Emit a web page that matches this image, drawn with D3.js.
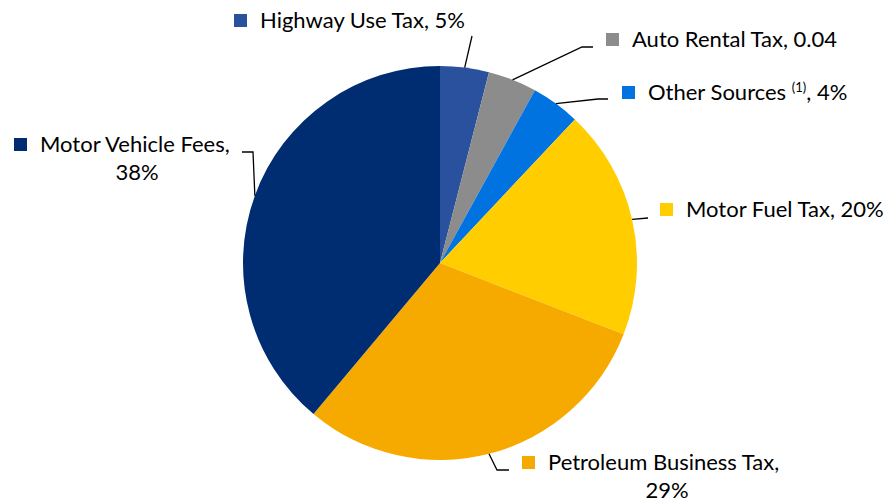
<!DOCTYPE html>
<html>
<head>
<meta charset="utf-8">
<script src="https://cdn.jsdelivr.net/npm/d3@7"></script>
<style>
  body { margin: 0; background: #fff; }
  text { font-family: Lato, "Open Sans", sans-serif; fill: #000; }
</style>
</head>
<body>
<div id="chart"></div>
<script>
// data
const names = ['Highway Use Tax', 'Auto Rental Tax', 'Other Sources', 'Motor Fuel Tax', 'Petroleum Business Tax', 'Motor Vehicle Fees'];
const shares = [4.0, 4.0, 4.0, 18.9, 30.2, 38.9];
const shareLabels = ['5%', '0.04', '4%', '20%', '29%', '38%'];
const colors = ['#2a519e', '#8c8c8c', '#0073e0', '#ffcd00', '#f6aa00', '#002d72'];

const width = 890, height = 502;
const cx = 440, cy = 263, radius = 197;
const fontSize = 22;

const svg = d3.select('#chart').append('svg')
  .attr('width', width)
  .attr('height', height);

const data = names.map((n, i) => ({ name: n, value: shares[i], label: shareLabels[i], color: colors[i] }));

const pie = d3.pie().sort(null).value(d => d.value);
const arcs = pie(data);

const arc = d3.arc().innerRadius(0).outerRadius(radius);

const g = svg.append('g').attr('transform', `translate(${cx},${cy})`);

g.selectAll('path')
  .data(arcs)
  .enter()
  .append('path')
  .attr('d', arc)
  .attr('fill', d => d.data.color);

// label layout: elbow of the leader line, where it ends, and where the legend box sits
const layout = [
  { elbow: null, end: [472, 36], box: [234, 14], lines: 1 },
  { elbow: [582, 47], end: [593, 47], box: [606, 33], lines: 1 },
  { elbow: [598, 99], end: [608, 99], box: [622, 86], lines: 1, sup: '(1)' },
  { elbow: null, end: [648, 218], box: [660, 203], lines: 1 },
  { elbow: [497, 470], end: [509, 470], box: [522, 456], lines: 2, center: 667 },
  { elbow: [253, 152], end: [242, 152], box: [14, 138], lines: 2, center: 137 }
];

// leader lines start at the middle of each slice's outer edge
function anchor(d) {
  const a = (d.startAngle + d.endAngle) / 2;
  return [cx + radius * Math.sin(a), cy - radius * Math.cos(a)];
}

const line = d3.line();
svg.append('g')
  .selectAll('path')
  .data(arcs)
  .enter()
  .append('path')
  .attr('d', (d, i) => {
    const l = layout[i];
    const pts = [anchor(d)];
    if (l.elbow) pts.push(l.elbow);
    pts.push(l.end);
    return line(pts);
  })
  .attr('fill', 'none')
  .attr('stroke', '#000')
  .attr('stroke-width', 1.3);

const labels = svg.append('g')
  .selectAll('g')
  .data(arcs)
  .enter()
  .append('g');

labels.append('rect')
  .attr('x', (d, i) => layout[i].box[0])
  .attr('y', (d, i) => layout[i].box[1])
  .attr('width', 13)
  .attr('height', 13)
  .attr('fill', d => d.data.color);

labels.each(function(d, i) {
  const l = layout[i];
  const sel = d3.select(this);
  const tx = l.box[0] + 26;
  const ty = l.box[1] + 14;
  const t = sel.append('text')
    .attr('x', tx)
    .attr('y', ty)
    .style('font-size', fontSize + 'px');
  if (l.lines === 2) {
    t.text(d.data.name + ',');
    sel.append('text')
      .attr('x', l.center)
      .attr('y', ty + 28)
      .attr('text-anchor', 'middle')
      .style('font-size', fontSize + 'px')
      .text(d.data.label);
  } else if (l.sup) {
    t.append('tspan').text(d.data.name + ' ');
    t.append('tspan').attr('dy', -8).style('font-size', '13px').text(l.sup);
    t.append('tspan').attr('dy', 8).text(', ' + d.data.label);
  } else {
    t.text(d.data.name + ', ' + d.data.label);
  }
});
</script>
</body>
</html>
